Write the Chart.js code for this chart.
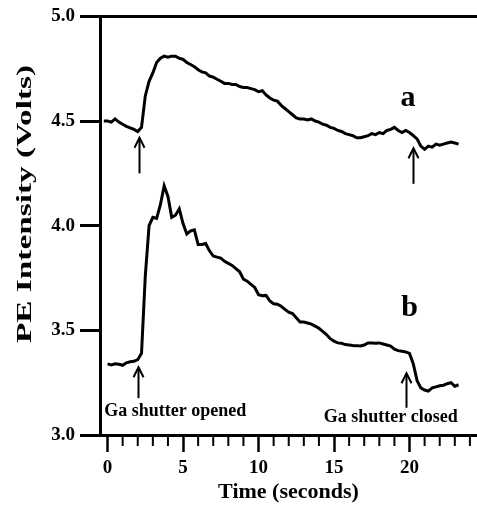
<!DOCTYPE html>
<html>
<head>
<meta charset="utf-8">
<script src="https://cdn.jsdelivr.net/npm/chart.js@4.4.0/dist/chart.umd.min.js"></script>
<style>
  html, body { margin: 0; padding: 0; background: #fff; }
  #wrap { width: 477px; height: 509px; }
</style>
</head>
<body>
<div id="wrap"><canvas id="peChart"></canvas></div>
<script>
// sample times (s), one every 0.25 s
const times = [
  -0.25,
  0, 0.25, 0.5, 0.75,   1, 1.25, 1.5, 1.75,   2, 2.25, 2.5, 2.75,   3, 3.25, 3.5, 3.75,
  4, 4.25, 4.5, 4.75,   5, 5.25, 5.5, 5.75,   6, 6.25, 6.5, 6.75,   7, 7.25, 7.5, 7.75,
  8, 8.25, 8.5, 8.75,   9, 9.25, 9.5, 9.75,   10, 10.25, 10.5, 10.75, 11, 11.25, 11.5, 11.75,
  12, 12.25, 12.5, 12.75, 13, 13.25, 13.5, 13.75, 14, 14.25, 14.5, 14.75, 15, 15.25, 15.5, 15.75,
  16, 16.25, 16.5, 16.75, 17, 17.25, 17.5, 17.75, 18, 18.25, 18.5, 18.75, 19, 19.25, 19.5, 19.75,
  20, 20.25, 20.5, 20.75, 21, 21.25, 21.5, 21.75, 22, 22.25, 22.5, 22.75, 23, 23.25
];

// trace a (Volts)
const traceA = [
  4.50,
  4.50, 4.495, 4.51, 4.495,    4.485, 4.475, 4.467, 4.46,   4.45, 4.47, 4.62, 4.69,     4.73, 4.78, 4.80, 4.81,
  4.805, 4.81, 4.81, 4.80,     4.795, 4.78, 4.77, 4.76,     4.745, 4.735, 4.73, 4.715,  4.71, 4.70, 4.69, 4.68,
  4.68, 4.675, 4.675, 4.665,   4.66, 4.66, 4.655, 4.65,     4.64, 4.645, 4.625, 4.61,   4.60, 4.595, 4.575, 4.56,
  4.545, 4.53, 4.515, 4.51,    4.51, 4.505, 4.51, 4.50,     4.495, 4.485, 4.48, 4.47,   4.465, 4.455, 4.45, 4.44,
  4.435, 4.43, 4.42, 4.42,     4.425, 4.43, 4.44, 4.435,    4.445, 4.44, 4.455, 4.46,   4.47, 4.455, 4.445, 4.455,
  4.445, 4.43, 4.415, 4.38,    4.365, 4.38, 4.375, 4.39,    4.385, 4.39, 4.395, 4.40,   4.395, 4.39
];

// trace b (Volts)
const traceB = [
  null,
  3.34, 3.335, 3.34, 3.338,    3.333, 3.345, 3.35, 3.352,   3.36, 3.39, 3.76, 4.00,     4.04, 4.035, 4.10, 4.19,
  4.14, 4.04, 4.05, 4.08,      4.01, 3.96, 3.975, 3.98,     3.91, 3.91, 3.915, 3.88,    3.855, 3.85, 3.845, 3.83,
  3.82, 3.81, 3.795, 3.78,     3.745, 3.735, 3.72, 3.705,   3.67, 3.665, 3.667, 3.64,   3.627, 3.625, 3.615, 3.60,
  3.587, 3.58, 3.56, 3.54,     3.54, 3.535, 3.53, 3.52,     3.51, 3.495, 3.48, 3.46,    3.448, 3.44, 3.438, 3.432,
  3.43, 3.428, 3.427, 3.425,   3.43, 3.44, 3.44, 3.438,     3.44, 3.435, 3.43, 3.425,   3.41, 3.403, 3.40, 3.397,
  3.39, 3.34, 3.26, 3.225,     3.215, 3.21, 3.225, 3.23,    3.235, 3.238, 3.245, 3.25,  3.233, 3.24
];

const minorTicks = [1, 2, 3, 4, 6, 7, 8, 9, 11, 12, 13, 14, 16, 17, 18, 19, 21, 22, 23, 24];

// shutter arrows: time, tail value, tip value
const arrows = [
  { t: 2.07, from: 4.25, to: 4.42 },
  { t: 20.2, from: 4.20, to: 4.37 },
  { t: 2.0, from: 3.176, to: 3.324 },
  { t: 19.8, from: 3.13, to: 3.295 }
];

const notes = [
  { text: 'a', t: 19.9, v: 4.61, big: true },
  { text: 'b', t: 20.0, v: 3.605, big: true },
  { text: 'Ga shutter opened', t: 4.49, v: 3.114 },
  { text: 'Ga shutter closed', t: 18.76, v: 3.086 }
];

const SERIF = "'Liberation Serif', 'DejaVu Serif', serif";

const decorations = {
  id: 'decorations',
  afterDraw(chart) {
    const { ctx, chartArea, scales: { x, y } } = chart;
    ctx.save();
    ctx.strokeStyle = '#000';
    ctx.fillStyle = '#000';

    // top frame line
    ctx.lineWidth = 3;
    ctx.beginPath();
    ctx.moveTo(chartArea.left - 1.5, chartArea.top);
    ctx.lineTo(chartArea.right, chartArea.top);
    ctx.stroke();

    // minor x ticks
    ctx.lineWidth = 2;
    minorTicks.forEach(t => {
      const px = x.getPixelForValue(t);
      ctx.beginPath();
      ctx.moveTo(px, chartArea.bottom);
      ctx.lineTo(px, chartArea.bottom + 11);
      ctx.stroke();
    });

    // arrows
    arrows.forEach(a => {
      const px = Math.round(x.getPixelForValue(a.t)) + 0.5;
      const y0 = y.getPixelForValue(a.from);
      const y1 = y.getPixelForValue(a.to);
      ctx.lineWidth = 2;
      ctx.beginPath();
      ctx.moveTo(px, y0);
      ctx.lineTo(px, y1 + 1);
      ctx.stroke();
      ctx.beginPath();
      ctx.moveTo(px - 5, y1 + 10);
      ctx.lineTo(px, y1);
      ctx.lineTo(px + 5, y1 + 10);
      ctx.stroke();
    });

    // labels
    ctx.textAlign = 'center';
    ctx.textBaseline = 'middle';
    notes.forEach(n => {
      ctx.font = 'bold ' + (n.big ? 30 : 18) + 'px ' + SERIF;
      ctx.fillText(n.text, x.getPixelForValue(n.t), y.getPixelForValue(n.v));
    });

    // y axis title
    ctx.font = 'bold 22px ' + SERIF;
    const title = 'PE Intensity (Volts)';
    const stretch = 278 / ctx.measureText(title).width;
    ctx.translate(25, 204);
    ctx.rotate(-Math.PI / 2);
    ctx.scale(stretch, 1);
    ctx.fillText(title, 0, 0);
    ctx.restore();
  }
};

const ctx = document.getElementById('peChart').getContext('2d');
new Chart(ctx, {
  type: 'line',
  data: {
    datasets: [
      {
        label: 'a',
        data: times.map((t, i) => ({ x: t, y: traceA[i] })),
        borderColor: '#000',
        borderWidth: 3,
        pointRadius: 0,
        tension: 0
      },
      {
        label: 'b',
        data: times.map((t, i) => ({ x: t, y: traceB[i] })),
        borderColor: '#000',
        borderWidth: 3,
        pointRadius: 0,
        tension: 0
      }
    ]
  },
  options: {
    responsive: true,
    maintainAspectRatio: false,
    animation: false,
    layout: { padding: { top: 13, right: 0, bottom: 0, left: 0 } },
    plugins: {
      legend: { display: false },
      tooltip: { enabled: false }
    },
    scales: {
      x: {
        type: 'linear',
        min: -0.5,
        max: 24.47,
        afterFit: scale => { scale.height = 74; },
        ticks: {
          stepSize: 5,
          includeBounds: false,
          color: '#000',
          padding: 5,
          font: { family: SERIF, size: 19, weight: 'bold' }
        },
        grid: {
          drawOnChartArea: false,
          tickLength: 17,
          tickWidth: 2.5,
          tickColor: '#000'
        },
        border: { color: '#000', width: 3 },
        title: {
          display: true,
          text: 'Time (seconds)',
          color: '#000',
          padding: { top: 0, bottom: 3 },
          font: { family: SERIF, size: 22, weight: 'bold' }
        }
      },
      y: {
        min: 3.0,
        max: 5.0,
        afterFit: scale => { scale.width = 100; },
        ticks: {
          stepSize: 0.5,
          color: '#000',
          padding: 5,
          callback: v => v.toFixed(1),
          font: { family: SERIF, size: 19, weight: 'bold' }
        },
        grid: {
          drawOnChartArea: false,
          tickLength: 20,
          tickWidth: 3,
          tickColor: '#000'
        },
        border: { color: '#000', width: 3 }
      }
    }
  },
  plugins: [decorations]
});
</script>
</body>
</html>
